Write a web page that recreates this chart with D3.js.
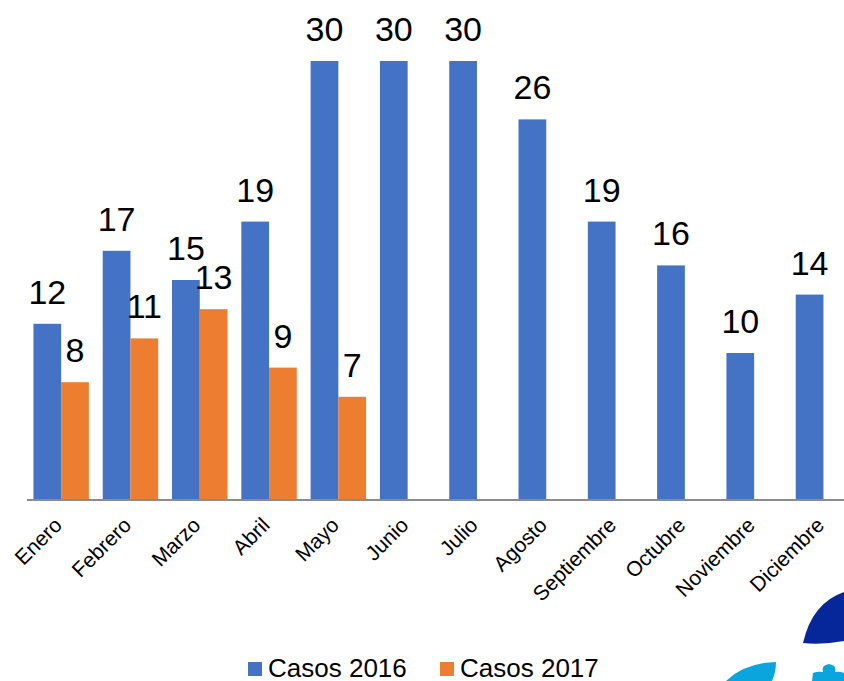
<!DOCTYPE html>
<html>
<head>
<meta charset="utf-8">
<script src="https://cdn.jsdelivr.net/npm/d3@7"></script>
<style>
  body { margin: 0; background: #fff; }
  text { font-family: "Liberation Sans", Arial, sans-serif; fill: #000; }
</style>
</head>
<body>
<svg></svg>
<script>
var meses = ["Enero", "Febrero", "Marzo", "Abril", "Mayo", "Junio", "Julio",
             "Agosto", "Septiembre", "Octubre", "Noviembre", "Diciembre"];
var series = ["Casos 2016", "Casos 2017"];
var casos2016 = [12, 17, 15, 19, 30, 30, 30, 26, 19, 16, 10, 14];
var casos2017 = [8, 11, 13, 9, 7, null, null, null, null, null, null, null];

var colors = d3.scaleOrdinal().domain(series).range(["#4472c4", "#ed7d31"]);

var screen = {width: 844, height: 681};
var svg = d3.select("svg")
  .attr("width", screen.width)
  .attr("height", screen.height);

var xScale = d3.scaleBand()
  .domain(meses)
  .range([26.5, 858.1])
  .paddingInner(0.2)
  .paddingOuter(0.1);

var xSub = d3.scaleBand()
  .domain(series)
  .range([0, xScale.bandwidth()]);

var yScale = d3.scaleLinear()
  .domain([0, 30])
  .range([499, 61]);

var rows = [];
meses.forEach(function(m, i){
  rows.push({mes: m, serie: series[0], v: casos2016[i]});
  if (casos2017[i] != null) rows.push({mes: m, serie: series[1], v: casos2017[i]});
});

svg.selectAll("rect.bar")
  .data(rows)
  .enter()
  .append("rect")
  .attr("class", "bar")
  .attr("x", function(d){ return xScale(d.mes) + xSub(d.serie); })
  .attr("y", function(d){ return yScale(d.v); })
  .attr("width", xSub.bandwidth())
  .attr("height", function(d){ return yScale(0) - yScale(d.v); })
  .attr("fill", function(d){ return colors(d.serie); });

// value labels
svg.selectAll("text.val")
  .data(rows)
  .enter()
  .append("text")
  .attr("class", "val")
  .attr("x", function(d){ return xScale(d.mes) + xSub(d.serie) + xSub.bandwidth() / 2; })
  .attr("y", function(d){ return yScale(d.v) - 20; })
  .attr("text-anchor", "middle")
  .style("font-size", "34px")
  .text(function(d){ return d.v; });

// x axis
var xAxis = d3.axisBottom(xScale).tickSize(0).tickSizeOuter(0);
var gx = svg.append("g").classed("xAxis", true)
  .attr("transform", "translate(0," + 499.5 + ")")
  .call(xAxis);
gx.select(".domain").attr("stroke", "#8c8c8c").attr("stroke-width", 1.8);
gx.selectAll(".tick text")
  .style("font-size", "21px")
  .attr("text-anchor", "end")
  .attr("dy", null)
  .attr("y", 0)
  .attr("transform", "translate(2,27) rotate(-45)");

// legend
var legendX = [248, 440];
var lg = svg.append("g").classed("legend", true);
series.forEach(function(s, i){
  lg.append("rect")
    .attr("x", legendX[i]).attr("y", 662)
    .attr("width", 14).attr("height", 14)
    .attr("fill", colors(s));
  lg.append("text")
    .attr("x", legendX[i] + 20).attr("y", 676.5)
    .style("font-size", "26px")
    .text(s);
});

// logo fragments at bottom right
var logo = svg.append("g");
logo.append("path")
  .attr("d", "M803,643 Q812,603 844,592 L844,641 Q822,645 803,643 Z")
  .attr("fill", "#06279a");
logo.append("path")
  .attr("d", "M726,681 Q744,663 776,662 Q776,672 772,681 Z")
  .attr("fill", "#0ba5dd");
logo.append("path")
  .attr("d", "M812,681 L813,673 Q818,671 823,672 Q821,665 829,664 Q837,665 835,672 Q840,671 844,673 L844,681 Z")
  .attr("fill", "#0ba5dd");
</script>
</body>
</html>
